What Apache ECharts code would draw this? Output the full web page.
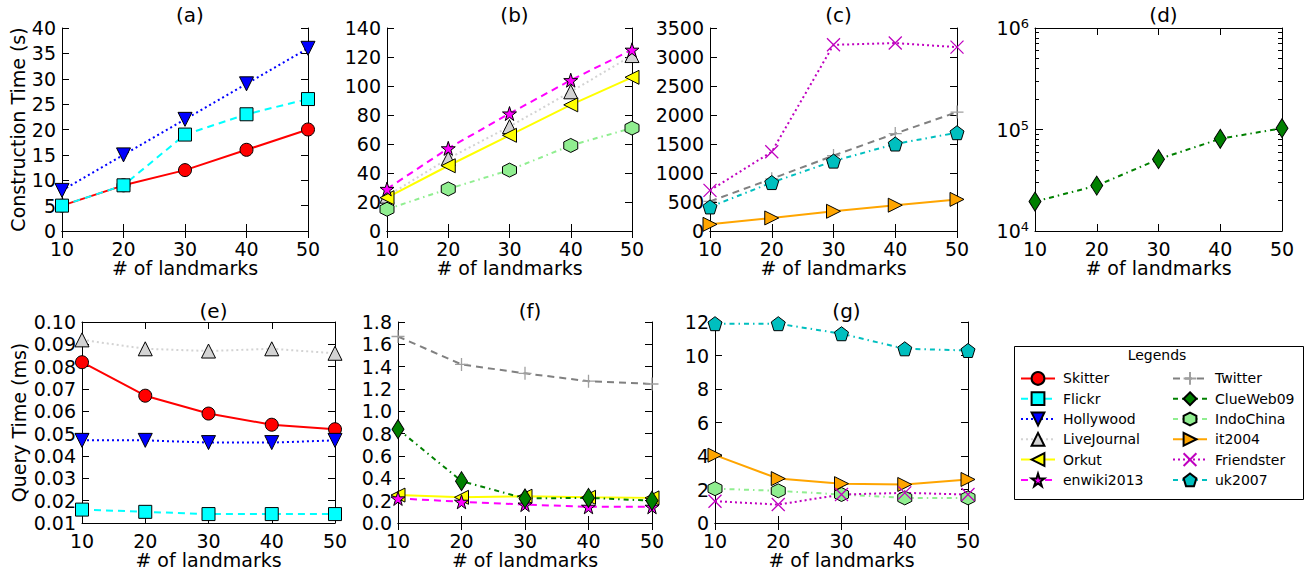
<!DOCTYPE html>
<html><head><meta charset="utf-8">
<script src="https://cdn.jsdelivr.net/npm/echarts@6/dist/echarts.min.js"></script>
<style>html,body{margin:0;padding:0;background:#fff}#c{width:1308px;height:574px}</style>
</head><body><div id="c"></div>
<script>
// ---------- data ----------
const landmarks = [10, 20, 30, 40, 50];
const xTickLabels = ['10', '20', '30', '40', '50'];
// (a) construction time (s)
const aSkitter = [5, 9, 12, 16, 20];
const aFlickr = [5, 9, 19, 23, 26];
const aHollywood = [8, 15, 22, 29, 36];
// (b)
const bLiveJournal = [24, 50, 72, 96, 121];
const bOrkut = [23, 45, 66, 87, 106];
const bEnwiki = [29, 57, 81, 104, 125];
const bIndoChina = [15, 29, 42, 59, 71];
// (c)
const cTwitter = [510, 900, 1300, 1680, 2050];
const cIt2004 = [115, 225, 340, 445, 545];
const cFriendster = [700, 1365, 3210, 3240, 3170];
const cUk2007 = [415, 835, 1205, 1500, 1695];
// (d)
const dClueWeb = [19500, 28000, 51000, 81000, 103000];
// (e) query time (ms)
const eSkitter = [0.082, 0.067, 0.059, 0.054, 0.052];
const eFlickr = [0.016, 0.015, 0.014, 0.014, 0.014];
const eHollywood = [0.047, 0.047, 0.046, 0.046, 0.047];
const eLiveJournal = [0.092, 0.088, 0.087, 0.088, 0.086];
// (f)
const fOrkut = [0.25, 0.23, 0.24, 0.23, 0.225];
const fEnwiki = [0.22, 0.19, 0.165, 0.145, 0.145];
const fTwitter = [1.67, 1.42, 1.34, 1.27, 1.245];
const fClueWeb = [0.84, 0.375, 0.22, 0.225, 0.2];
// (g)
const gIndoChina = [2.05, 1.92, 1.7, 1.5, 1.5];
const gIt2004 = [4.05, 2.65, 2.35, 2.3, 2.6];
const gFriendster = [1.3, 1.1, 1.7, 1.8, 1.7];
const gUk2007 = [11.9, 11.9, 11.3, 10.4, 10.3];

const seriesNames = ['Skitter', 'Flickr', 'Hollywood', 'LiveJournal', 'Orkut', 'enwiki2013',
  'Twitter', 'ClueWeb09', 'IndoChina', 'it2004', 'Friendster', 'uk2007'];
const panelTitles = ['(a)', '(b)', '(c)', '(d)', '(e)', '(f)', '(g)'];
const yMins = [0, 0, 0, 1e4, 0.01, 0, 0];
const yMaxs = [40, 140, 3500, 1e6, 0.10, 1.8, 12];
const yIntervals = [5, 20, 500, null, 0.01, 0.2, 2];
const yLabelDecimals = [0, 0, 0, null, 2, 1, 0];
const logMinorTicks = [2e4, 3e4, 4e4, 5e4, 6e4, 7e4, 8e4, 9e4, 2e5, 3e5, 4e5, 5e5, 6e5, 7e5, 8e5, 9e5];
const panelSeries = [
  [['Skitter', aSkitter], ['Flickr', aFlickr], ['Hollywood', aHollywood]],
  [['LiveJournal', bLiveJournal], ['Orkut', bOrkut], ['enwiki2013', bEnwiki], ['IndoChina', bIndoChina]],
  [['Twitter', cTwitter], ['it2004', cIt2004], ['Friendster', cFriendster], ['uk2007', cUk2007]],
  [['ClueWeb09', dClueWeb]],
  [['Skitter', eSkitter], ['Flickr', eFlickr], ['Hollywood', eHollywood], ['LiveJournal', eLiveJournal]],
  [['Orkut', fOrkut], ['enwiki2013', fEnwiki], ['Twitter', fTwitter], ['ClueWeb09', fClueWeb]],
  [['IndoChina', gIndoChina], ['it2004', gIt2004], ['Friendster', gFriendster], ['uk2007', gUk2007]]
];

// ---------- layout & style ----------
const FONT = 'DejaVu Sans';
const grids = [
  {left: 62, top: 28, width: 246, height: 203},
  {left: 387, top: 28, width: 245, height: 203},
  {left: 710, top: 28, width: 247, height: 203},
  {left: 1035, top: 28, width: 247, height: 203},
  {left: 82, top: 322, width: 253, height: 201},
  {left: 398, top: 322, width: 254, height: 201},
  {left: 715, top: 322, width: 253, height: 201}
];
const STAR = 'path://M50,0 L61.8,35.1 L98.5,35.1 L68.7,56.8 L79.4,90.5 L50,69.6 L20.6,90.5 L31.3,56.8 L1.5,35.1 L38.2,35.1 Z';
const HEX = 'path://M50,0 L93.3,25 L93.3,75 L50,100 L6.7,75 L6.7,25 Z';
const PENT = 'path://M50,0 L97.6,34.5 L79.4,90.5 L20.6,90.5 L2.4,34.5 Z';
const PLUS = 'path://M0,50 L100,50 M50,0 L50,100';
const XS = 'path://M0,0 L100,100 M100,0 L0,100';
const DOT = [2, 3], DASH = [7, 5], DASHDOT = [5, 4, 1.5, 4];
const STY = {
  Skitter: {c: '#ff0000', sym: 'circle', size: 13, dash: 'solid'},
  Flickr: {c: '#00ffff', sym: 'rect', size: 13, dash: DASH},
  Hollywood: {c: '#0000ff', sym: 'triangle', rot: 180, size: 14, dash: DOT},
  LiveJournal: {c: '#d3d3d3', sym: 'triangle', size: 14, dash: DOT},
  Orkut: {c: '#ffff00', sym: 'triangle', rot: 90, size: 14, dash: 'solid'},
  enwiki2013: {c: '#ff00ff', sym: STAR, size: 14, dash: DASH},
  Twitter: {c: '#808080', mk: '#a0a0a0', sym: PLUS, size: 13, dash: DASH, hollow: true},
  ClueWeb09: {c: '#008000', sym: 'diamond', size: [12, 19], dash: DASHDOT},
  IndoChina: {c: '#90ee90', sym: HEX, size: 14, dash: DASHDOT},
  it2004: {c: '#ffa500', sym: 'triangle', rot: -90, size: 14, dash: 'solid'},
  Friendster: {c: '#bf00bf', sym: XS, size: 13, dash: DOT, hollow: true},
  uk2007: {c: '#00bfbf', sym: PENT, size: 14, dash: DASHDOT}
};

const xAxes = [], yAxes = [], series = [], titles = [];
const tickStyle = {inside: true, length: 7, lineStyle: {color: '#000', width: 1}};
const lineStyleAx = {lineStyle: {color: '#000', width: 1}};

grids.forEach((g, i) => {
  // x axes
  const xb = xAxes.length;
  xAxes.push({
    type: 'value', gridIndex: i, position: 'bottom', min: 10, max: 50, interval: 10,
    axisLine: lineStyleAx, axisTick: tickStyle, splitLine: {show: false},
    axisLabel: {color: '#000', fontSize: 19, fontFamily: FONT, margin: 8,
      formatter: v => xTickLabels[landmarks.indexOf(v)] || ''},
    name: '# of landmarks', nameLocation: 'middle', nameGap: 27,
    nameTextStyle: {color: '#000', fontSize: 19, fontFamily: FONT}
  });
  xAxes.push({
    type: 'value', gridIndex: i, position: 'top', min: 10, max: 50, interval: 10,
    axisLine: lineStyleAx, axisTick: tickStyle, splitLine: {show: false}, axisLabel: {show: false}
  });
  // y axes
  const yl = yAxes.length;
  const isLog = i === 3;
  const dec = yLabelDecimals[i];
  const yBase = {
    gridIndex: i, min: yMins[i], max: yMaxs[i], splitLine: {show: false},
    axisLine: lineStyleAx, axisTick: isLog ? {inside: true, length: 8, lineStyle: {color: '#000'}} : tickStyle
  };
  if (isLog) { yBase.type = 'log'; yBase.logBase = 10; } else { yBase.type = 'value'; yBase.interval = yIntervals[i]; }
  const yLeft = Object.assign({}, yBase, {
    position: 'left',
    axisLabel: isLog ? {
      color: '#000', fontSize: 19, fontFamily: FONT, margin: 6,
      formatter: v => '10{s|' + Math.round(Math.log10(v)) + '}',
      rich: {s: {fontSize: 13, fontFamily: FONT, color: '#000', verticalAlign: 'top', padding: [0, 0, 9, 0]}}
    } : {color: '#000', fontSize: 19, lineHeight: 14, fontFamily: FONT, margin: 6, formatter: v => v.toFixed(dec)}
  });
  if (i === 0) Object.assign(yLeft, {name: 'Construction Time (s)', nameLocation: 'middle', nameGap: 34,
    nameTextStyle: {color: '#000', fontSize: 19, fontFamily: FONT}});
  if (i === 4) Object.assign(yLeft, {name: 'Query Time (ms)', nameLocation: 'middle', nameGap: 54,
    nameTextStyle: {color: '#000', fontSize: 19, fontFamily: FONT}});
  yAxes.push(yLeft);
  yAxes.push(Object.assign({}, yBase, {position: 'right', axisLabel: {show: false}}));
  if (isLog) {
    ['left', 'right'].forEach(pos => yAxes.push({
      type: 'log', logBase: 10, gridIndex: i, min: yMins[i], max: yMaxs[i], position: pos,
      axisLine: {show: false}, splitLine: {show: false}, axisLabel: {show: false},
      axisTick: {inside: true, length: 4, customValues: logMinorTicks, lineStyle: {color: '#000'}}
    }));
  }
  // title
  titles.push({
    text: panelTitles[i], left: g.left + g.width / 2, textAlign: 'center', top: i < 4 ? 0 : 296,
    textStyle: {fontSize: 20, fontWeight: 'normal', color: '#000', fontFamily: FONT}
  });
  // series
  panelSeries[i].forEach(([name, vals]) => {
    const s = STY[name];
    const mk = s.mk || s.c;
    series.push({
      type: 'line', name, xAxisIndex: xb, yAxisIndex: yl,
      data: landmarks.map((x, k) => [x, vals[k]]),
      symbol: s.sym, symbolSize: s.size, symbolRotate: s.rot || 0, showSymbol: true,
      lineStyle: {color: s.c, width: 2, type: s.dash},
      itemStyle: s.hollow ? {color: mk, borderColor: mk, borderWidth: 1.3}
        : {color: s.c, borderColor: '#000', borderWidth: 1},
      emphasis: {disabled: true}, animation: false, clip: true
    });
  });
});

const legendCommon = {
  orient: 'vertical', top: 366, itemWidth: 34, itemHeight: 16, itemGap: 5.5, selectedMode: false,
  textStyle: {fontSize: 14, fontFamily: FONT, color: '#000', padding: [0, 0, 0, 3]}
};

const option = {
  backgroundColor: '#fff',
  animation: false,
  title: titles,
  grid: grids.map(g => Object.assign({show: false, containLabel: false}, g)),
  xAxis: xAxes,
  yAxis: yAxes,
  legend: [
    Object.assign({left: 1015, data: seriesNames.slice(0, 6)}, legendCommon),
    Object.assign({left: 1167, data: seriesNames.slice(6)}, legendCommon)
  ],
  graphic: [
    {type: 'rect', left: 1012, top: 344, shape: {width: 289, height: 153},
      style: {fill: 'none', stroke: '#000', lineWidth: 1}, z: -1},
    {type: 'text', x: 1157, y: 355, style: {text: 'Legends', font: '14px "DejaVu Sans"', fill: '#000',
      align: 'center', verticalAlign: 'middle'}}
  ],
  series
};
const chart = echarts.init(document.getElementById('c'), null, {renderer: 'svg'});
chart.setOption(option);
</script></body></html>
